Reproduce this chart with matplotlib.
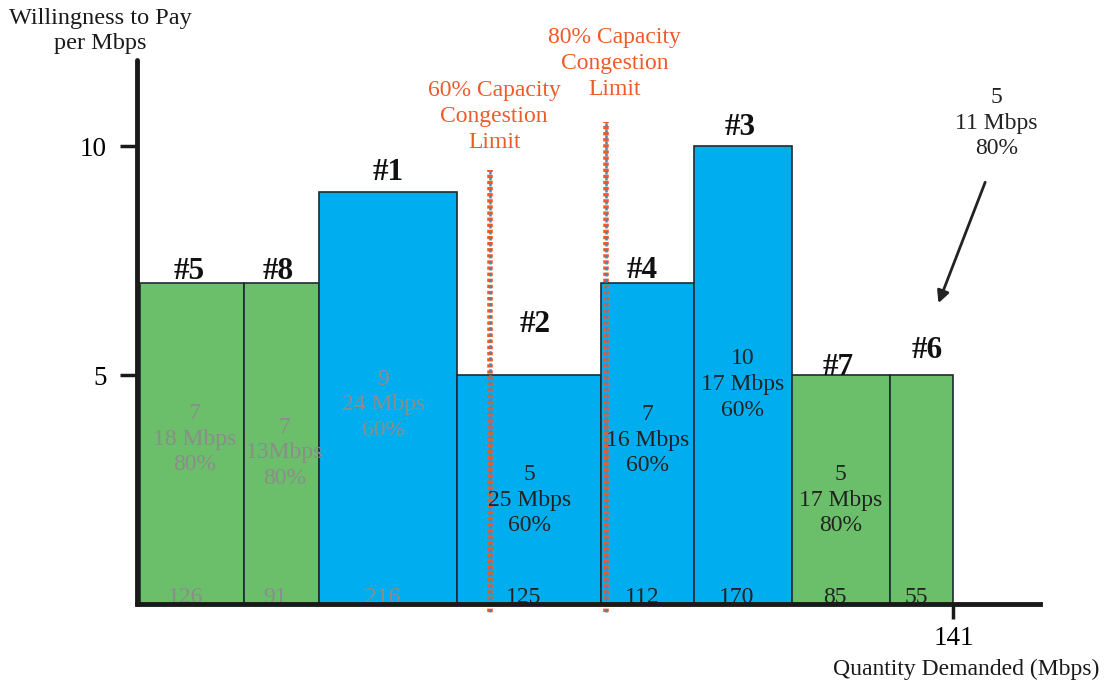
import matplotlib
matplotlib.use("Agg")
import matplotlib.pyplot as plt

plt.rcParams['font.family'] = ['Liberation Serif', 'DejaVu Serif']

# bars, left to right
names = ['#5', '#8', '#1', '#2', '#4', '#3', '#7', '#6']
mbps = [18, 13, 24, 25, 16, 17, 17, 11]
price = [7, 7, 9, 5, 7, 10, 5, 5]
pct = ['80%', '80%', '60%', '60%', '60%', '60%', '80%', '80%']
revenue = [126, 91, 216, 125, 112, 170, 85, 55]
mbps_text = ['18 Mbps', '13Mbps', '24 Mbps', '25 Mbps', '16 Mbps', '17 Mbps', '17 Mbps', '11 Mbps']

limits = [60.6, 80.8]
limit_tops = [9.48, 10.52]
limit_names = ['60% Capacity\nCongestion\nLimit', '80% Capacity\nCongestion\nLimit']

total = 141

# layout tweaks (not data)
name_dy = [0.1, 0.1, 0.25, 0.95, 0.12, 0.25, 0.0, 0.38]
name_dx = [-0.5, -0.5, 0, 1, -1, -0.5, -0.5, 1]
mid_y = [3.6, 3.3, 4.35, 2.27, 3.58, 4.8, 2.27, None]
mid_dx = [0.5, 0.5, -0.8, 0, 0, 0, 0, 0]
limit_label_pos = [(61.4, 10.65), (82.3, 11.81)]
green = '#6bbf6a'
blue = '#00aeef'
colors = [green, green, blue, blue, blue, blue, green, green]
txt_colors = ['#8c8c8c', '#8c8c8c', '#8c8c8c', '#222222', '#222222', '#222222', '#222222', '#222222']
orange = '#f05a28'

fig = plt.figure(figsize=(11.06, 6.8), dpi=100)
ax = fig.add_axes([137 / 1106, 76 / 680, 903 / 1106, 544 / 680])

lefts = []
x = 0
for w in mbps:
    lefts.append(x)
    x += w

ax.bar(lefts, price, width=mbps, align='edge', color=colors,
       edgecolor='#1e2a30', linewidth=1.2, zorder=2)

for i in range(len(names)):
    cx = lefts[i] + mbps[i] / 2
    ax.text(cx + name_dx[i], price[i] + name_dy[i], names[i], ha='center',
            va='baseline', fontsize=22.5, fontweight='bold', color='#111111', zorder=5)
    ax.text(cx - 1, 0.03, str(revenue[i]), ha='center', va='baseline',
            fontsize=17, color=txt_colors[i], zorder=5)
    label = '%d\n%s\n%s' % (price[i], mbps_text[i], pct[i])
    if mid_y[i] is not None:
        ax.text(cx + mid_dx[i], mid_y[i], label, ha='center', va='center',
                fontsize=17, color=txt_colors[i], linespacing=1.3, zorder=5)
    else:
        # bar #6 is labelled outside, with an arrow
        ax.text(148.5, 10.5, label, ha='center', va='center',
                fontsize=17, color='#222222', linespacing=1.3, zorder=5)
        ax.annotate('', xy=(138.4, 6.57), xytext=(146.5, 9.21),
                    annotation_clip=False,
                    arrowprops=dict(arrowstyle='-|>', color='#222222', lw=2,
                                    mutation_scale=18, shrinkA=0, shrinkB=0),
                    zorder=5)

for lx, top, lname, pos in zip(limits, limit_tops, limit_names, limit_label_pos):
    ax.plot([lx, lx], [-0.17, top], color=orange, lw=4, zorder=3,
            linestyle=(0, (0.6, 0.5)), clip_on=False)
    ax.plot([lx, lx], [-0.17, top], color='#4a8aa6', lw=1.8, zorder=4,
            linestyle=(0, (1.3, 1.1)), clip_on=False)
    ax.text(pos[0], pos[1], lname, ha='center', va='center', fontsize=17,
            color=orange, linespacing=1.3)

ax.set_xlim(-0.5, 156)
ax.set_ylim(0, 11.88)
for s in ['top', 'right']:
    ax.spines[s].set_visible(False)
ax.spines['left'].set_linewidth(3.5)
ax.spines['bottom'].set_linewidth(3.5)
ax.spines['left'].set_color('#1a1a1a')
ax.spines['bottom'].set_color('#1a1a1a')
ax.spines['left'].set_capstyle('round')
ax.spines['bottom'].set_zorder(6)

ax.set_yticks([5, 10])
ax.set_yticklabels(['5', '10'], fontsize=19.5)
ax.set_xticks([total])
ax.set_xticklabels([str(total)], fontsize=19.5)
ax.tick_params(axis='y', length=12, width=2.5, color='#1a1a1a', pad=10)
ax.tick_params(axis='x', length=11, width=2.5, color='#1a1a1a', pad=5)

fig.text(100 / 1106, 1 - 31 / 680, 'Willingness to Pay\nper Mbps', ha='center',
         va='center', fontsize=17.5, linespacing=1.2, color='#1a1a1a')
fig.text(966 / 1106, 1 - 669 / 680, 'Quantity Demanded (Mbps)', ha='center',
         va='center', fontsize=17, color='#1a1a1a')

fig.savefig('out.png', dpi=100)
